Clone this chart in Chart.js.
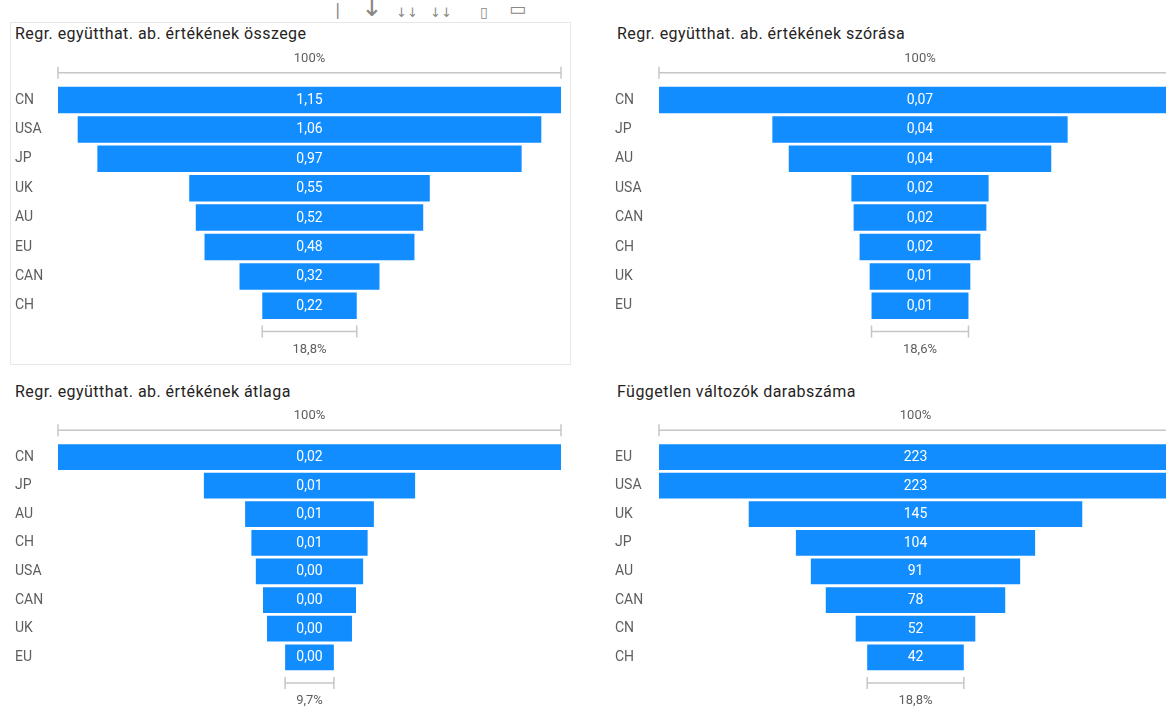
<!DOCTYPE html>
<html lang="hu">
<head>
<meta charset="utf-8">
<title>Regressziós együtthatók – tölcsérdiagramok</title>
<script src="https://cdn.jsdelivr.net/npm/chart.js@4.4.1/dist/chart.umd.min.js"></script>
<style>
  html, body { margin: 0; padding: 0; background: #ffffff; }
  body { width: 1166px; height: 707px; position: relative; overflow: hidden; font-family: Roboto, "Noto Sans", sans-serif; }
  .title { position: absolute; font-size: 16px; letter-spacing: 0.45px; line-height: 18px; color: #252423; white-space: nowrap; }
  .frame { position: absolute; border: 1.5px solid #e8e8e8; box-sizing: border-box; }
  canvas { position: absolute; }
  .hdr { position: absolute; color: #8a8886; font-family: "DejaVu Sans", sans-serif; white-space: nowrap; line-height: 1; }
</style>
</head>
<body>

<!-- visual header icons of the selected visual -->
<div class="hdr" style="left:335px; top:2px; font-size:16px;">|</div>
<div class="hdr" style="left:361px; top:-6px; font-size:26px;">↓</div>
<div class="hdr" style="left:396px; top:6px; font-size:13px;">↓↓</div>
<div class="hdr" style="left:430px; top:6px; font-size:13px;">↓↓</div>
<div class="hdr" style="left:480px; top:5px; font-size:14px;">▯</div>
<div class="hdr" style="left:509px; top:0px; font-size:18px;">▭</div>

<div class="frame" style="left:10px; top:22px; width:561px; height:343px;"></div>

<div class="title" style="left:15px; top:25px;">Regr. együtthat. ab. értékének összege</div>
<div class="title" style="left:617px; top:25px;">Regr. együtthat. ab. értékének szórása</div>
<div class="title" style="left:15px; top:383px;">Regr. együtthat. ab. értékének átlaga</div>
<div class="title" style="left:617px; top:383px;">Független változók darabszáma</div>

<canvas id="cSum"   width="580" height="320" style="left:0px;   top:40px;"></canvas>
<canvas id="cStd"   width="600" height="320" style="left:600px; top:40px;"></canvas>
<canvas id="cAvg"   width="580" height="307" style="left:0px;   top:400px;"></canvas>
<canvas id="cCount" width="600" height="307" style="left:600px; top:400px;"></canvas>

<script>
// Sum of absolute regression coefficients
const catSum = ['CN', 'USA', 'JP', 'UK', 'AU', 'EU', 'CAN', 'CH'];
const valSum = [1.15, 1.06, 0.97, 0.55, 0.52, 0.48, 0.32, 0.216];

// Standard deviation of absolute coefficients
const catStd = ['CN', 'JP', 'AU', 'USA', 'CAN', 'CH', 'UK', 'EU'];
const valStd = [0.07, 0.0396, 0.0352, 0.0184, 0.0178, 0.0162, 0.0135, 0.013];

// Mean of absolute coefficients
const catAvg = ['CN', 'JP', 'AU', 'CH', 'USA', 'CAN', 'UK', 'EU'];
const valAvg = [0.0225, 0.00945, 0.00576, 0.0052, 0.0048, 0.00416, 0.0038, 0.00218];

// Count of independent variables
const catCount = ['EU', 'USA', 'UK', 'JP', 'AU', 'CAN', 'CN', 'CH'];
const valCount = [223, 223, 145, 104, 91, 78, 52, 42];

const BAR_BLUE = '#118DFF';
const LABEL_GREY = '#605E5C';
const BRACKET_GREY = '#C8C6C4';
const FONT = 'Roboto, "Noto Sans", sans-serif';

const fmt2 = v => v.toFixed(2).replace('.', ',');
const fmt0 = v => String(Math.round(v));
const fmtPct = r => (r >= 0.9995 ? '100' : (r * 100).toFixed(1).replace('.', ',')) + '%';

// Draws the value inside each bar, plus the "100%" bracket above the first
// bar and the conversion bracket below the last bar.
const funnelDecor = {
  id: 'funnelDecor',
  afterDatasetsDraw(chart, args, opts) {
    const ctx = chart.ctx;
    const xs = chart.scales.x;
    const area = chart.chartArea;
    const vals = chart.data.datasets[0].raw;
    const first = vals[0], last = vals[vals.length - 1];
    const meta = chart.getDatasetMeta(0);

    ctx.save();
    ctx.textAlign = 'center';
    ctx.textBaseline = 'middle';

    // values inside bars
    ctx.font = '14px ' + FONT;
    ctx.fillStyle = '#ffffff';
    meta.data.forEach((bar, i) => {
      const cx = (bar.x + bar.base) / 2;
      ctx.fillText(opts.format(vals[i]), cx, bar.y + 0.5);
    });

    const bracket = (v, y) => {
      const x0 = xs.getPixelForValue(-v / 2);
      const x1 = xs.getPixelForValue(v / 2);
      ctx.strokeStyle = BRACKET_GREY;
      ctx.lineWidth = 1.5;
      ctx.beginPath();
      ctx.moveTo(x0, y); ctx.lineTo(x1, y);
      ctx.moveTo(x0, y - 6); ctx.lineTo(x0, y + 6);
      ctx.moveTo(x1, y - 6); ctx.lineTo(x1, y + 6);
      ctx.stroke();
      return (x0 + x1) / 2;
    };

    ctx.font = '13px ' + FONT;
    ctx.fillStyle = LABEL_GREY;
    const yTop = area.top - opts.topGap;
    const cTop = bracket(first, yTop);
    ctx.fillText(fmtPct(1), cTop, yTop - 14);

    const yBot = area.bottom + opts.bottomGap;
    const cBot = bracket(last, yBot);
    ctx.fillText(fmtPct(last / first), cBot, yBot + 18);
    ctx.restore();
  }
};

function funnel(canvasId, cats, vals, format, box) {
  const half = vals[0] / 2;
  return new Chart(document.getElementById(canvasId), {
    type: 'bar',
    data: {
      labels: cats,
      datasets: [{
        data: vals.map(v => [-v / 2, v / 2]),
        raw: vals,
        backgroundColor: BAR_BLUE,
        borderWidth: 0,
        categoryPercentage: 1,
        barPercentage: 0.9
      }]
    },
    plugins: [funnelDecor],
    options: {
      indexAxis: 'y',
      responsive: false,
      animation: false,
      layout: { padding: box.padding },
      scales: {
        x: { display: false, min: -half, max: half },
        y: {
          grid: { display: false, drawTicks: false },
          border: { display: false },
          ticks: {
            crossAlign: 'far',
            padding: 0,
            color: LABEL_GREY,
            font: { family: FONT, size: 14 }
          },
          afterFit(axis) { axis.width = box.axisWidth; }
        }
      },
      plugins: {
        legend: { display: false },
        tooltip: { enabled: false },
        funnelDecor: { format, topGap: box.topGap, bottomGap: box.bottomGap }
      }
    }
  });
}

funnel('cSum', catSum, valSum, fmt2,
  { padding: { left: 15, right: 19, top: 45.3, bottom: 39.5 }, axisWidth: 43, topGap: 12.5, bottomGap: 11 });
funnel('cStd', catStd, valStd, fmt2,
  { padding: { left: 15, right: 19, top: 45.3, bottom: 39.5 }, axisWidth: 44, topGap: 12.5, bottomGap: 11 });
funnel('cAvg', catAvg, valAvg, fmt2,
  { padding: { left: 15, right: 19, top: 42.7, bottom: 35.4 }, axisWidth: 43, topGap: 12.5, bottomGap: 11.5 });
funnel('cCount', catCount, valCount, fmt0,
  { padding: { left: 15, right: 28, top: 42.7, bottom: 35.4 }, axisWidth: 44, topGap: 12.5, bottomGap: 11.5 });
</script>
</body>
</html>
